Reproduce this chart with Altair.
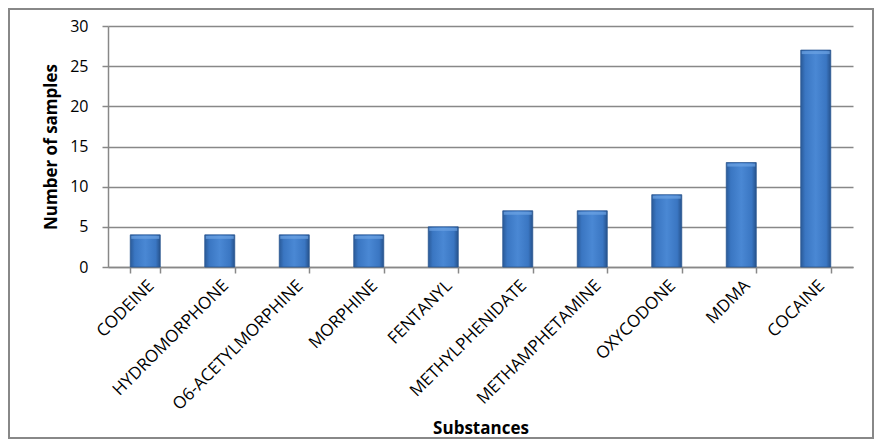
import altair as alt
import pandas as pd

substances = ["CODEINE", "HYDROMORPHONE", "O6-ACETYLMORPHINE", "MORPHINE", "FENTANYL",
              "METHYLPHENIDATE", "METHAMPHETAMINE", "OXYCODONE", "MDMA", "COCAINE"]
samples = [4, 4, 4, 4, 5, 7, 7, 9, 13, 27]

df = pd.DataFrame({"Substance": substances, "Samples": samples})

FONT = "Open Sans"
W, H = 745, 241

grad = alt.Gradient(
    gradient="linear", x1=0, x2=1, y1=0, y2=0,
    stops=[
        alt.GradientStop(color="#2a5a98", offset=0),
        alt.GradientStop(color="#3a76c2", offset=0.15),
        alt.GradientStop(color="#4a88d4", offset=0.5),
        alt.GradientStop(color="#3a76c2", offset=0.85),
        alt.GradientStop(color="#26528c", offset=1),
    ],
)

xenc = alt.X("Substance:N", sort=substances, title="Substances",
             axis=alt.Axis(labelAngle=-45, labelFontSize=17, labelFont=FONT, labelColor="#000",
                           labelLimit=400,
                           titleFont=FONT, titleFontSize=17, titleFontWeight="bold", titleColor="#000",
                           titleY=153, tickBand="extent", tickSize=6, tickColor="#888", tickWidth=1.5,
                           domainColor="#888", domainWidth=1.5, labelPadding=4))
yenc = alt.Y("Samples:Q", scale=alt.Scale(domain=[0, 30]), title="Number of samples",
             axis=alt.Axis(values=[0, 5, 10, 15, 20, 25, 30], labelFontSize=16, labelFont=FONT,
                           labelColor="#000", titleFont=FONT, titleFontSize=17, titleFontWeight="bold",
                           titleColor="#000", titleX=-48, tickSize=6, tickColor="#888", tickWidth=1.5,
                           domainColor="#888", domainWidth=1.5, gridColor="#888", gridWidth=1.5,
                           labelPadding=14))

bars = alt.Chart(df).mark_bar(size=30, fill=grad, stroke="#2a5590", strokeWidth=0.8).encode(
    x=xenc, y=yenc)

caps = alt.Chart(df).mark_tick(size=28, thickness=3, color="#6ea4e4", yOffset=2.5).encode(
    x=alt.X("Substance:N", sort=substances), y=alt.Y("Samples:Q"))

border = alt.Chart(pd.DataFrame({"a": [0]})).mark_rect(
    fill=None, stroke="#888", strokeWidth=2, clip=False
).encode(x=alt.value(-99), x2=alt.value(W + 20), y=alt.value(-17), y2=alt.value(H + 171))

chart = alt.layer(border, bars, caps).properties(
    width=W, height=H,
    autosize=alt.AutoSizeParams(type="none"),
    padding={"left": 100, "top": 18, "right": 21, "bottom": 172},
).configure_view(stroke=None).configure_scale(bandPaddingInner=0.6, bandPaddingOuter=0.3)

chart.save("out.html", embed_options={"renderer": "svg", "actions": False})
